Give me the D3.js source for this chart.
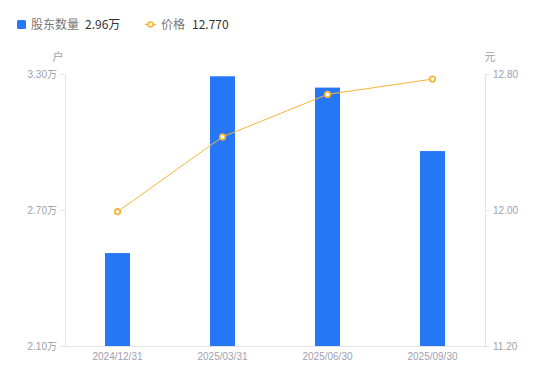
<!DOCTYPE html>
<html>
<head>
<meta charset="utf-8">
<script src="https://cdn.jsdelivr.net/npm/d3@7/dist/d3.min.js"></script>
<style>
  body { margin: 0; background: #fff; font-family: "Noto Sans CJK SC", "Noto Sans", sans-serif; }
  svg { display: block; }
</style>
</head>
<body>
<svg id="chart"></svg>
<script>
    // data
    var dates = ["2024/12/31", "2025/03/31", "2025/06/30", "2025/09/30"];
    var holders = [2.51, 3.29, 3.24, 2.96];   // 万户
    var prices = [11.99, 12.43, 12.68, 12.77];
    var leftTicks = [2.10, 2.70, 3.30];
    var rightTicks = [11.20, 12.00, 12.80];

    var width = 550, height = 381;
    var margin = { top: 74, right: 65, bottom: 35, left: 65 };
    var barColor = "#2677f5", lineColor = "#f7b538", tickColor = "#9fa0ad";

    var svg = d3.select("#chart").attr("width", width).attr("height", height);

    var x = d3.scaleBand().domain(dates)
        .range([margin.left, width - margin.right]);
    var yL = d3.scaleLinear().domain([2.10, 3.30])
        .range([height - margin.bottom, margin.top]);
    var yR = d3.scaleLinear().domain([11.20, 12.80])
        .range([height - margin.bottom, margin.top]);

    //--------------
    // AXES
    //--------------
    var leftAxis = svg.append("g")
        .attr("transform", "translate(" + margin.left + ",0)")
        .call(d3.axisLeft(yL).tickValues(leftTicks).tickSize(5).tickPadding(3)
            .tickFormat(d => d3.format(".2f")(d) + "万"));
    var rightAxis = svg.append("g")
        .attr("transform", "translate(" + (width - margin.right) + ",0)")
        .call(d3.axisRight(yR).tickValues(rightTicks).tickSize(5).tickPadding(3)
            .tickFormat(d3.format(".2f")));
    var bottomAxis = svg.append("g")
        .attr("transform", "translate(0," + (height - margin.bottom) + ")")
        .call(d3.axisBottom(x).tickSize(0).tickPadding(7));

    [leftAxis, rightAxis, bottomAxis].forEach(g => {
        g.select(".domain").attr("stroke", "#e3e3e8");
        g.selectAll(".tick line").attr("stroke", "#e3e3e8");
        g.selectAll("text").attr("fill", tickColor)
            .style("font-size", "10px")
            .style("font-family", "'Liberation Sans', 'Noto Sans CJK SC', sans-serif");
    });

    svg.append("text").attr("x", 58).attr("y", 61).attr("text-anchor", "middle")
        .attr("fill", tickColor).style("font-size", "11px").text("户");
    svg.append("text").attr("x", 490).attr("y", 61).attr("text-anchor", "middle")
        .attr("fill", tickColor).style("font-size", "11px").text("元");

    //--------------
    // BARS
    //--------------
    var barW = 25;
    svg.selectAll("rect.bar").data(holders).enter()
        .append("rect")
        .attr("class", "bar")
        .attr("x", (d, i) => x(dates[i]) + x.bandwidth() / 2 - barW / 2)
        .attr("y", d => yL(d))
        .attr("width", barW)
        .attr("height", d => yL(2.10) - yL(d))
        .attr("fill", barColor);

    //--------------
    // PRICE LINE
    //--------------
    var line = d3.line()
        .x((d, i) => x(dates[i]) + x.bandwidth() / 2)
        .y(d => yR(d));
    svg.append("path").datum(prices)
        .attr("d", line)
        .attr("fill", "none")
        .attr("stroke", lineColor)
        .attr("stroke-width", 1);
    svg.selectAll("circle.pt").data(prices).enter()
        .append("circle")
        .attr("class", "pt")
        .attr("cx", (d, i) => x(dates[i]) + x.bandwidth() / 2)
        .attr("cy", d => yR(d))
        .attr("r", 2.7)
        .attr("fill", "#fff")
        .attr("stroke", lineColor)
        .attr("stroke-width", 1.8);

    //--------------
    // LEGEND
    //--------------
    var legend = svg.append("g").style("font-size", "12px");
    legend.append("rect").attr("x", 17).attr("y", 20).attr("width", 9).attr("height", 9)
        .attr("rx", 1.5).attr("fill", barColor);
    legend.append("text").attr("x", 31).attr("y", 29).attr("fill", "#777").text("股东数量");
    legend.append("text").attr("x", 85).attr("y", 29).attr("fill", "#333")
        .text(d3.format(".2f")(holders[holders.length - 1]) + "万");

    legend.append("line").attr("x1", 145).attr("x2", 156).attr("y1", 24.5).attr("y2", 24.5)
        .attr("stroke", lineColor).attr("stroke-width", 1.5);
    legend.append("circle").attr("cx", 150.5).attr("cy", 24.5).attr("r", 2.5)
        .attr("fill", "#fff").attr("stroke", lineColor).attr("stroke-width", 1.5);
    legend.append("text").attr("x", 161).attr("y", 29).attr("fill", "#777").text("价格");
    legend.append("text").attr("x", 192).attr("y", 29).attr("fill", "#333")
        .text(d3.format(".3f")(prices[prices.length - 1]));
</script>
</body>
</html>
